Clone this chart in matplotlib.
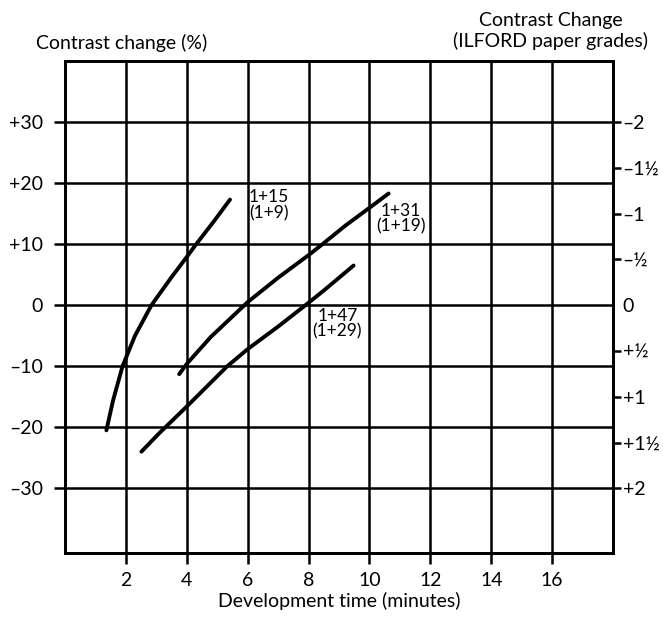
import matplotlib
matplotlib.use("Agg")
import matplotlib.pyplot as plt

plt.rcParams["font.family"] = ["Lato", "DejaVu Sans"]

# dilution curves: development time (min) vs contrast change (%)
x_15 = [1.36, 1.58, 1.89, 2.3, 2.84, 3.5, 4.0, 4.31, 4.9, 5.42]
y_15 = [-20.5, -15.6, -10.0, -5.0, 0.0, 4.6, 7.9, 10.0, 13.8, 17.3]
x_31 = [3.75, 4.02, 4.79, 6.0, 7.0, 8.0, 8.46, 9.2, 10.0, 10.63]
y_31 = [-11.3, -9.5, -5.2, 0.5, 4.5, 8.2, 10.0, 13.0, 15.95, 18.3]
x_47 = [2.51, 3.11, 4.0, 5.33, 6.0, 7.0, 7.9, 8.5, 9.48]
y_47 = [-24.0, -20.9, -16.6, -10.0, -7.2, -3.5, 0.0, 2.4, 6.5]

labels = ["1+15\n(1+9)", "1+31\n(1+19)", "1+47\n(1+29)"]
label_xy = [(6.69, 19.0), (11.03, 16.8), (8.95, -0.4)]

x_ticks = [2, 4, 6, 8, 10, 12, 14, 16]
y_ticks = [-30, -20, -10, 0, 10, 20, 30]
y_tick_labels = ["\u201330", "\u201320", "\u201310", "0", "+10", "+20", "+30"]
grade_pos = [30, 22.5, 15, 7.5, 0, -7.5, -15, -22.5, -30]
grade_labels = ["\u20132", "\u20131\u00bd", "\u20131", "\u2013\u00bd", "0",
                "+\u00bd", "+1", "+1\u00bd", "+2"]

fig = plt.figure(figsize=(6.63, 6.17), dpi=100)
ax = fig.add_axes([0.098, 0.1037, 0.8266, 0.7974])
ax.set_xlim(0, 18)
ax.set_ylim(-40.6, 40.0)

ax.set_xticks(x_ticks)
ax.set_xticklabels([str(v) for v in x_ticks])
ax.set_yticks(y_ticks)
ax.set_yticklabels(y_tick_labels)
ax.grid(True, color="black", lw=1.8)
ax.set_axisbelow(True)
ax.tick_params(axis="both", direction="out", length=8, width=1.8,
               labelsize=14, color="black")
ax.tick_params(axis="y", pad=8)
ax.tick_params(axis="x", pad=6)
for s in ax.spines.values():
    s.set_linewidth(2.0)

for xs, ys in [(x_15, y_15), (x_31, y_31), (x_47, y_47)]:
    ax.plot(xs, ys, color="black", lw=2.8, solid_capstyle="round",
            solid_joinstyle="round")

for txt, (tx, ty) in zip(labels, label_xy):
    ax.text(tx, ty, txt, ha="center", va="top", fontsize=12.5,
            linespacing=1.0, multialignment="center")

ax2 = ax.twinx()
ax2.set_ylim(ax.get_ylim())
ax2.set_yticks(grade_pos)
ax2.set_yticklabels(grade_labels)
ax2.tick_params(axis="y", direction="out", length=6, width=1.8,
                labelsize=14, pad=1)
ax2.yaxis.get_major_ticks()[4].tick2line.set_visible(False)
for s in ax2.spines.values():
    s.set_linewidth(2.0)

ax.set_xlabel("Development time (minutes)", fontsize=14, labelpad=2)

fig.text(0.054, 0.930, "Contrast change (%)", ha="left", va="center",
         fontsize=14)
fig.text(0.831, 0.950, "Contrast Change\n(ILFORD paper grades)",
         ha="center", va="center", fontsize=14, linespacing=1.15)

fig.savefig("out.png", dpi=100)
